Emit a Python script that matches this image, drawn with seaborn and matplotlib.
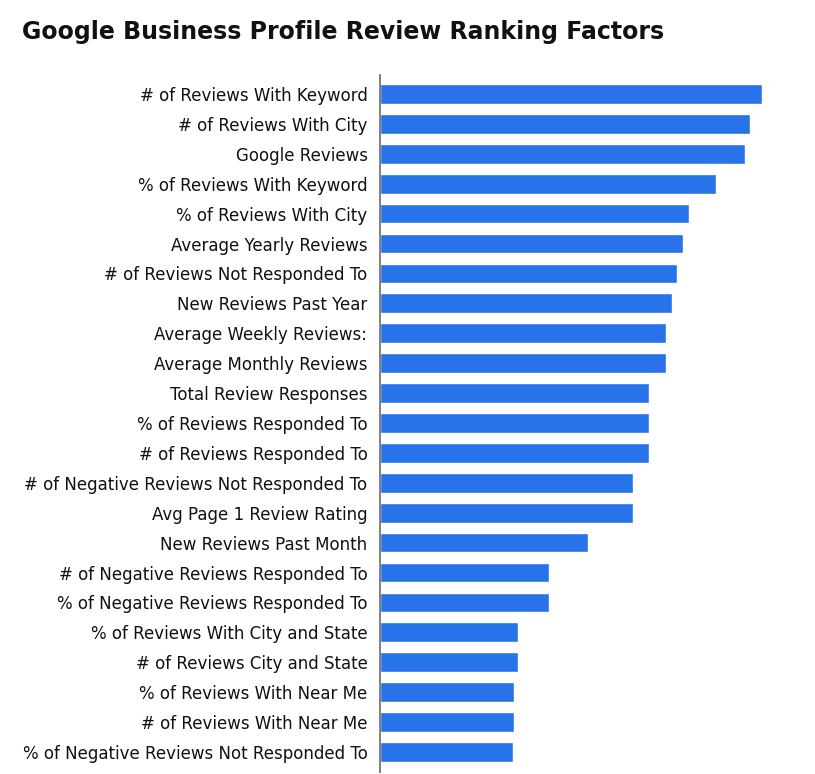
import pandas as pd
import numpy as np
import seaborn as sns
import matplotlib
matplotlib.use('Agg')
import matplotlib.pyplot as plt

# ranking factors, top to bottom
factors = [
    '# of Reviews With Keyword',
    '# of Reviews With City',
    'Google Reviews',
    '% of Reviews With Keyword',
    '% of Reviews With City',
    'Average Yearly Reviews',
    '# of Reviews Not Responded To',
    'New Reviews Past Year',
    'Average Weekly Reviews:',
    'Average Monthly Reviews',
    'Total Review Responses',
    '% of Reviews Responded To',
    '# of Reviews Responded To',
    '# of Negative Reviews Not Responded To',
    'Avg Page 1 Review Rating',
    'New Reviews Past Month',
    '# of Negative Reviews Responded To',
    '% of Negative Reviews Responded To',
    '% of Reviews With City and State',
    '# of Reviews City and State',
    '% of Reviews With Near Me',
    '# of Reviews With Near Me',
    '% of Negative Reviews Not Responded To',
]
# bar lengths (relative scale)
scores = [382, 370, 365, 336, 309, 303, 297, 292, 286, 286, 269, 269,
          269, 253, 253, 208, 169, 169, 138, 138, 134, 134, 133]

df = pd.DataFrame({'factor': factors, 'score': scores})

sns.set_style('white')
plt.rcParams['font.family'] = ['DejaVu Sans']

fig = plt.figure(figsize=(8.15, 7.74), dpi=100)
ax = fig.add_axes([380 / 815, 2 / 774, 420 / 815, 697 / 774])

sns.barplot(data=df, x='score', y='factor', orient='h', color='#2873ea',
            saturation=1, width=0.66, ax=ax)

ax.set_xlim(0, 420)
ax.set_ylim(22.67, -0.635)
ax.set_xlabel('')
ax.set_ylabel('')
ax.set_xticks([])
ax.tick_params(axis='y', length=0, pad=9, labelsize=12, labelcolor='#111111')
for s in ['top', 'right', 'bottom']:
    ax.spines[s].set_visible(False)
ax.spines['left'].set_color('#808080')
ax.spines['left'].set_linewidth(1.4)

fig.text(22 / 815, 1 - 32 / 774, 'Google Business Profile Review Ranking Factors',
         fontsize=17, fontweight='bold', va='center', ha='left', color='#111111')

fig.savefig('out.png', dpi=100)
